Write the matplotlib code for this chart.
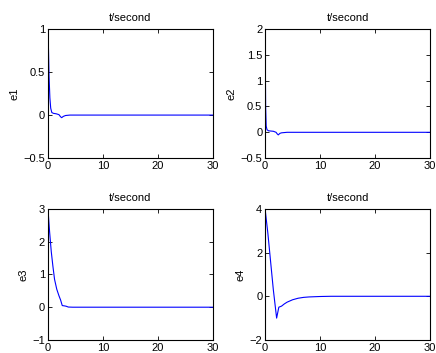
import matplotlib
matplotlib.use("Agg")
import matplotlib.pyplot as plt

plt.rcParams['font.family'] = ['Liberation Sans', 'DejaVu Sans']
plt.rcParams['font.size'] = 8

t1 = [0, 0.1, 0.2, 0.35, 0.5, 0.7, 1.0, 1.5, 2.0, 2.3, 2.5, 2.8, 3.2, 4.0, 6, 10, 20, 30]
e1 = [1.0, 0.75, 0.45, 0.2, 0.08, 0.03, 0.02, 0.015, 0.005, -0.02, -0.03, -0.015, -0.005, 0, 0, 0, 0, 0]

t2 = [0, 0.05, 0.1, 0.2, 0.35, 0.6, 1.0, 1.5, 2.0, 2.2, 2.4, 2.7, 3.0, 4.0, 10, 20, 30]
e2 = [2.0, 1.2, 0.5, 0.12, 0.05, 0.03, 0.025, 0.02, 0.0, -0.03, -0.05, -0.02, -0.01, 0, 0, 0, 0]

t3 = [0, 0.3, 0.6, 0.9, 1.2, 1.6, 2.0, 2.3, 2.6, 3.0, 3.3, 3.7, 4.5, 10, 20, 30]
e3 = [3.0, 2.3, 1.7, 1.25, 0.85, 0.55, 0.35, 0.22, 0.05, 0.04, 0.03, 0.005, 0, 0, 0, 0]

t4 = [0, 0.5, 1.0, 1.5, 2.1, 2.5, 3.0, 3.5, 4.0, 5.0, 6.0, 7.0, 8.0, 10.0, 12, 20, 30]
e4 = [4.0, 2.9, 1.6, 0.3, -1.0, -0.5, -0.45, -0.35, -0.27, -0.16, -0.09, -0.05, -0.03, -0.01, 0, 0, 0]

panels = [
    (t1, e1, 'e1', (-0.5, 1), [-0.5, 0, 0.5, 1], ['\u22120.5', '0', '0.5', '1']),
    (t2, e2, 'e2', (-0.5, 2), [-0.5, 0, 0.5, 1, 1.5, 2], ['\u22120.5', '0', '0.5', '1', '1.5', '2']),
    (t3, e3, 'e3', (-1, 3), [-1, 0, 1, 2, 3], ['\u22121', '0', '1', '2', '3']),
    (t4, e4, 'e4', (-2, 4), [-2, 0, 2, 4], ['\u22122', '0', '2', '4']),
]

fig = plt.figure(figsize=(4.36, 3.53), dpi=100)
positions = [
    [0.110, 0.552, 0.378, 0.366],
    [0.608, 0.552, 0.378, 0.366],
    [0.110, 0.037, 0.378, 0.371],
    [0.608, 0.037, 0.378, 0.371],
]
for pos, (t, e, lab, ylim, yt, ytl) in zip(positions, panels):
    ax = fig.add_axes(pos)
    ax.plot(t, e, color='#0000ff', lw=0.8)
    ax.set_xlim(0, 30)
    ax.set_ylim(*ylim)
    ax.set_xticks([0, 10, 20, 30])
    ax.set_yticks(yt)
    ax.set_yticklabels(ytl)
    ax.set_title('t/second', fontsize=8, pad=6)
    ax.set_ylabel(lab, fontsize=8, labelpad=3)
    ax.tick_params(direction='in', top=True, right=True, length=3, width=0.6, pad=2, labelsize=8)
    for s in ax.spines.values():
        s.set_linewidth(0.8)

fig.savefig('out.png', dpi=100)
